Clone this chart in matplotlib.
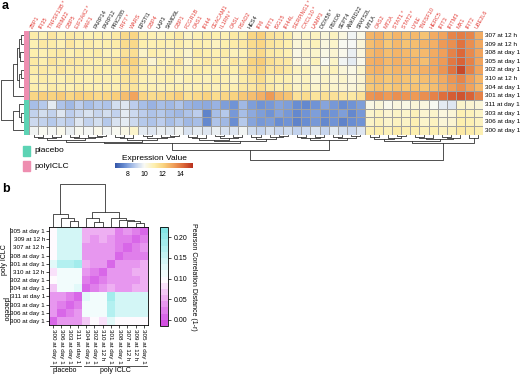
import numpy as np
import matplotlib.pyplot as plt
from matplotlib.colors import LinearSegmentedColormap, ListedColormap
from matplotlib.patches import Rectangle

plt.rcParams['font.family'] = ['Liberation Sans', 'DejaVu Sans']

# ---------------- panel a data ----------------
genes = ['ZBP1', 'IFI35', 'TNFSF13B *', 'TRIM22', 'GBP5', 'EIF2AK2 *', 'XAF1', 'PARP14', 'PARP12',
         'PRIC285', 'IRF7 *', 'WARS', 'EPSTI1', 'GBP4', 'LAP3', 'SAMD9L', 'GBP1', 'FCGR1B', 'OAS1',
         'IFI44', 'CEACAM1', 'IL1RN *', 'OASL', 'RSAD2', 'HES4', 'IFI6', 'IFIT1', 'ISG15', 'IFI44L',
         'SERPING1 *', 'CXCL10 *', 'LAMP3', 'DDX58 *', 'FBXO6', 'SEPT4', 'ANKRD22', 'SPATS2L', 'MT1A',
         'OAS2', 'MT2A', 'STAT1 *', 'STAT2 *', 'LY6E', 'TNFSF10', 'HERC5', 'IFIT3', 'IFITM3', 'MX1',
         'IFIT2', 'UBE2L6']
black_genes = ['PARP14', 'PARP12', 'PRIC285', 'EPSTI1', 'LAP3', 'SAMD9L', 'HES4', 'DDX58 *',
               'FBXO6', 'SEPT4', 'ANKRD22', 'SPATS2L', 'MT1A']
samples_a = ['307 at 12 h', '309 at 12 h', '308 at day 1', '305 at day 1', '302 at day 1',
             '310 at 12 h', '304 at day 1', '301 at day 1', '311 at day 1', '303 at day 1',
             '306 at day 1', '300 at day 1']
groups_a = ['polyICLC'] * 8 + ['placebo'] * 4

expr = [
    [11.2, 11.0, 11.4, 11.1, 11.3, 11.2, 11.0, 11.1, 11.0, 11.3, 11.9, 12.0, 11.2, 11.0, 10.9, 11.1, 11.3, 10.8, 11.0, 11.2, 11.1, 11.0, 11.3, 11.2,
     12.0, 12.2, 11.6, 11.4, 11.2, 10.5, 10.7, 10.8, 10.4, 10.8, 10.3, 9.8, 10.2,
     12.8, 12.9, 12.5, 12.8, 12.6, 12.7, 12.5, 13.0, 13.2, 13.8, 14.0, 13.8, 13.0],
    [11.0, 11.3, 11.2, 11.0, 11.4, 11.1, 11.2, 11.0, 11.1, 11.2, 11.8, 11.9, 11.1, 11.0, 11.1, 11.0, 11.2, 10.9, 11.1, 11.0, 10.8, 11.1, 11.2, 11.3,
     11.8, 12.0, 11.5, 11.3, 11.1, 10.4, 10.6, 10.9, 10.3, 10.6, 10.0, 9.9, 10.4,
     12.6, 12.8, 12.4, 12.7, 12.5, 12.6, 12.8, 12.9, 13.4, 13.6, 14.2, 13.6, 13.1],
    [11.1, 11.0, 11.2, 11.3, 11.0, 11.2, 11.1, 11.2, 10.9, 11.0, 11.6, 11.7, 10.7, 11.1, 11.0, 10.8, 11.0, 10.6, 11.2, 11.1, 11.0, 11.2, 10.9, 11.0,
     11.6, 11.9, 11.3, 11.2, 11.0, 10.2, 10.5, 10.6, 10.2, 10.5, 10.1, 9.7, 10.3,
     12.7, 12.9, 12.6, 12.8, 12.7, 12.6, 12.7, 13.0, 13.3, 13.9, 14.4, 13.7, 13.2],
    [11.3, 11.1, 11.5, 11.2, 11.4, 11.3, 11.2, 11.1, 11.2, 11.4, 12.0, 12.1, 11.3, 10.5, 11.0, 11.1, 11.4, 10.6, 11.1, 11.3, 11.2, 11.0, 11.4, 11.2,
     12.1, 12.3, 11.7, 11.4, 11.3, 10.3, 10.4, 10.9, 10.0, 10.7, 9.8, 9.6, 10.1,
     12.9, 13.0, 12.7, 12.9, 12.8, 12.8, 12.6, 13.1, 13.4, 14.1, 14.5, 13.9, 13.2],
    [11.2, 11.3, 11.2, 11.4, 11.2, 11.3, 11.1, 11.2, 11.1, 11.2, 11.7, 11.9, 11.2, 11.1, 11.0, 11.2, 11.1, 10.9, 11.2, 11.1, 11.0, 11.2, 11.1, 11.4,
     11.9, 12.1, 11.5, 11.6, 11.3, 10.8, 10.9, 10.5, 10.6, 10.9, 10.4, 10.2, 10.6,
     12.8, 12.9, 12.6, 12.8, 12.7, 12.7, 12.9, 13.1, 13.5, 14.2, 15.0, 13.9, 13.2],
    [11.0, 11.2, 11.1, 11.0, 11.2, 11.1, 11.0, 11.1, 11.0, 11.1, 11.5, 11.6, 11.0, 10.9, 11.0, 11.1, 10.8, 11.0, 11.0, 10.9, 11.1, 11.0, 10.8, 11.2,
     11.5, 11.8, 11.2, 11.1, 11.0, 10.6, 10.8, 10.4, 10.7, 10.5, 10.6, 10.3, 10.5,
     12.5, 12.6, 12.4, 12.6, 12.5, 12.4, 12.6, 12.7, 13.0, 13.5, 13.8, 13.3, 12.8],
    [11.1, 11.0, 11.2, 11.1, 11.0, 11.2, 11.1, 11.0, 11.1, 11.0, 11.4, 11.5, 11.1, 11.0, 10.9, 11.0, 11.1, 10.9, 11.0, 11.1, 10.9, 11.1, 11.0, 11.3,
     11.4, 11.7, 11.3, 11.0, 11.2, 10.7, 10.9, 10.6, 10.8, 10.6, 10.5, 10.4, 10.6,
     12.4, 12.5, 12.3, 12.5, 12.4, 12.5, 12.4, 12.6, 12.9, 13.3, 13.6, 13.2, 12.7],
    [12.0, 12.2, 12.1, 12.3, 12.0, 12.2, 12.1, 11.9, 12.0, 12.2, 12.6, 13.2, 12.0, 11.8, 11.9, 12.0, 12.2, 11.7, 11.9, 12.1, 11.8, 12.0, 12.1, 12.4,
     12.6, 12.9, 13.4, 12.7, 12.5, 11.6, 11.8, 11.5, 11.7, 11.6, 11.4, 11.3, 11.6,
     13.5, 13.6, 13.4, 13.6, 13.5, 13.4, 13.6, 13.9, 14.3, 14.6, 14.8, 14.5, 13.9],
    [8.6, 8.8, 9.6, 8.7, 8.5, 8.9, 8.6, 8.8, 8.7, 9.3, 9.5, 8.9, 8.6, 8.4, 8.6, 8.5, 8.7, 8.4, 8.3, 8.2, 8.4, 8.0, 7.8, 8.5,
     8.0, 7.8, 7.9, 8.1, 8.0, 7.7, 7.6, 7.8, 8.1, 7.9, 7.7, 7.8, 8.0,
     10.2, 10.4, 10.1, 10.3, 10.2, 10.4, 10.3, 10.0, 9.6, 9.5, 10.6, 10.5, 10.4],
    [9.0, 9.3, 9.0, 9.5, 8.9, 9.2, 9.4, 9.1, 9.3, 9.0, 9.6, 9.2, 8.9, 8.7, 8.8, 8.6, 8.5, 8.7, 8.9, 7.5, 8.6, 8.8, 7.9, 8.6,
     8.2, 8.0, 7.8, 8.1, 7.9, 7.6, 7.8, 8.0, 7.7, 7.8, 8.0, 7.6, 7.9,
     10.6, 10.8, 10.5, 10.7, 10.6, 10.9, 10.5, 10.6, 10.3, 10.4, 11.0, 10.9, 10.7],
    [9.2, 9.0, 8.8, 9.1, 8.9, 9.5, 9.0, 9.3, 8.8, 9.4, 9.6, 9.2, 8.8, 8.7, 8.9, 8.6, 8.8, 8.5, 8.6, 7.6, 8.7, 8.5, 7.7, 8.8,
     8.1, 7.9, 8.0, 7.7, 7.8, 7.5, 7.7, 7.9, 7.6, 7.8, 7.5, 7.7, 7.8,
     10.7, 10.9, 10.6, 10.8, 10.7, 11.0, 10.6, 10.8, 10.4, 10.5, 11.1, 11.0, 10.8],
    [9.8, 10.0, 9.9, 10.1, 9.7, 10.0, 9.9, 10.1, 9.8, 10.0, 10.2, 10.6, 9.6, 9.5, 9.7, 9.6, 9.8, 9.4, 9.6, 9.5, 9.7, 9.4, 9.5, 9.8,
     9.3, 9.1, 9.4, 9.2, 9.3, 9.0, 9.2, 9.4, 9.1, 9.6, 9.3, 9.2, 9.5,
     11.0, 11.1, 10.9, 11.2, 11.0, 11.1, 10.9, 11.0, 10.8, 10.9, 11.3, 11.2, 11.0],
]

# trees: [left, right, height], leaves are positions in display order
row_tree_a = [[[[[0, 1, 0.12], [2, 3, 0.14], 0.2], [[4, 5, 0.13], 6, 0.2], 0.3], 7, 0.45],
              [[8, [9, 10, 0.12], 0.2], 11, 0.45], 1.0]
col_x1 = [[[[0, 1, .08], [2, 3, .1], .15], [[4, 5, .09], [6, [7, 8, .06], .1], .14], .22],
          [[[9, 10, .08], 11, .12], [[12, 13, .07], [14, [15, 16, .06], .1], .13], .2], .27]
col_x2 = [[[[17, 18, .08], 19, .12], [[20, 21, .07], [22, 23, .1], .13], .2],
          [[24, 25, .1], [26, [27, 28, .07], .11], .16], .25]
col_b2 = [[[29, 30, .08], [31, 32, .1], .15], [[33, 34, .09], [35, 36, .07], .13], .22]
col_r1 = [[[37, 38, .1], [39, [40, 41, .07], .12], .18],
          [[[42, 43, .08], 44, .12], [[45, 46, .09], 47, .13], .17], .25]
col_tree_a = [[[col_x1, col_x2, .33], col_b2, .6], [col_r1, [48, 49, .12], .33], .95]

# ---------------- panel b data ----------------
samples_b = ['300 at day 1', '306 at day 1', '303 at day 1', '311 at day 1', '304 at day 1',
             '302 at day 1', '310 at 12 h', '301 at day 1', '308 at day 1', '307 at 12 h',
             '309 at 12 h', '305 at day 1']
dist = [
    [0.00, 0.03, 0.035, 0.04, 0.07, 0.09, 0.075, 0.12, 0.10, 0.10, 0.10, 0.10],
    [0.03, 0.00, 0.02, 0.03, 0.11, 0.11, 0.115, 0.17, 0.14, 0.14, 0.14, 0.14],
    [0.035, 0.02, 0.00, 0.025, 0.11, 0.11, 0.11, 0.17, 0.14, 0.14, 0.14, 0.14],
    [0.04, 0.03, 0.025, 0.00, 0.12, 0.11, 0.11, 0.18, 0.145, 0.145, 0.14, 0.145],
    [0.07, 0.11, 0.11, 0.12, 0.00, 0.025, 0.03, 0.045, 0.04, 0.04, 0.045, 0.05],
    [0.09, 0.11, 0.11, 0.11, 0.025, 0.00, 0.02, 0.04, 0.035, 0.04, 0.04, 0.045],
    [0.075, 0.115, 0.11, 0.11, 0.03, 0.02, 0.00, 0.035, 0.04, 0.04, 0.045, 0.05],
    [0.12, 0.17, 0.17, 0.18, 0.045, 0.04, 0.035, 0.00, 0.03, 0.035, 0.04, 0.045],
    [0.10, 0.14, 0.14, 0.145, 0.04, 0.035, 0.04, 0.03, 0.00, 0.02, 0.025, 0.025],
    [0.10, 0.14, 0.14, 0.145, 0.04, 0.04, 0.04, 0.035, 0.02, 0.00, 0.02, 0.03],
    [0.10, 0.14, 0.14, 0.14, 0.045, 0.04, 0.045, 0.04, 0.025, 0.02, 0.00, 0.02],
    [0.10, 0.14, 0.14, 0.145, 0.05, 0.045, 0.05, 0.045, 0.025, 0.03, 0.02, 0.00],
]
col_tree_b = [[0, [1, [2, 3, 0.14], 0.21], 0.30],
              [[4, [5, 6, 0.12], 0.2], [7, [8, [9, [10, 11, 0.1], 0.13], 0.17], 0.22], 0.35], 1.0]

W, H = 520, 375


def box(x0, y0, x1, y1):
    # pixel box (top-left origin) -> figure fraction rect
    return [x0 / W, 1 - y1 / H, (x1 - x0) / W, (y1 - y0) / H]


def dendro(tree):
    # returns centre, height, list of segments (pos, height)
    if isinstance(tree, int):
        return tree + 0.5, 0.0, []
    left, right, h = tree
    xl, hl, sl = dendro(left)
    xr, hr, sr = dendro(right)
    seg = [(xl, hl), (xl, h), (xr, h), (xr, hr)]
    return (xl + xr) / 2, h, sl + sr + [seg]


fig = plt.figure(figsize=(5.2, 3.75), dpi=100)
lc = '#333333'

# ---------------- panel a ----------------
cmap_a = LinearSegmentedColormap.from_list('expr', ['#3456a8', '#6b8fd3', '#b7caec', '#f8f9f4',
                                                    '#fdf0b0', '#f9d27e', '#f0a05a', '#dd6a3a',
                                                    '#b8301e'])
data_a = np.array(expr)
ax = fig.add_axes(box(29, 30.5, 483, 134.5))
mesh = ax.pcolormesh(data_a, cmap=cmap_a, vmin=6.6, vmax=15.5, edgecolors='#a0a0a0', linewidth=0.5)
ax.set_xlim(0, len(genes))
ax.set_ylim(len(samples_a), 0)
ax.set_xticks(np.arange(len(genes)) + 0.5)
ax.set_xticklabels(genes, rotation=60, ha='left', rotation_mode='anchor', fontsize=4.0)
ax.xaxis.tick_top()
for t in ax.get_xticklabels():
    t.set_color('#222222' if t.get_text() in black_genes else '#e3403a')
ax.set_yticks(np.arange(len(samples_a)) + 0.5)
ax.set_yticklabels(samples_a, fontsize=4.6)
ax.yaxis.tick_right()
ax.tick_params(axis='x', length=0, pad=1)
ax.tick_params(axis='y', length=0, pad=1.5)
for s in ax.spines.values():
    s.set_visible(False)

grp_col = {'placebo': '#5cd3b4', 'polyICLC': '#ee8eb0'}
ax_s = fig.add_axes(box(24, 30.5, 28.5, 134.5))
ax_s.pcolormesh(np.arange(len(groups_a))[:, None],
                cmap=ListedColormap([grp_col[g] for g in groups_a]), edgecolors='none')
ax_s.set_ylim(len(groups_a), 0)
ax_s.axis('off')

ax_rd = fig.add_axes(box(0.5, 30.5, 23.5, 134.5))
for seg in dendro(row_tree_a)[2]:
    ax_rd.plot([p[1] for p in seg], [p[0] for p in seg], color=lc, lw=0.6)
ax_rd.set_xlim(1.0, 0)
ax_rd.set_ylim(len(samples_a), 0)
ax_rd.axis('off')

ax_cd = fig.add_axes(box(29, 134.5, 483, 161))
for seg in dendro(col_tree_a)[2]:
    ax_cd.plot([p[0] for p in seg], [p[1] for p in seg], color=lc, lw=0.6)
ax_cd.set_xlim(0, len(genes))
ax_cd.set_ylim(1.0, 0)
ax_cd.axis('off')

# group legend
ax_l = fig.add_axes([0, 0, 1, 1])
ax_l.set_xlim(0, W)
ax_l.set_ylim(H, 0)
ax_l.axis('off')
for i, g in enumerate(['placebo', 'polyICLC']):
    y = 146 + i * 15
    ax_l.add_patch(Rectangle((23, y), 6.5, 9.5, color=grp_col[g]))
    ax_l.text(34, y + 5, g, fontsize=6, va='center', ha='left')
ax_l.text(2, 6, 'a', fontsize=9, fontweight='bold', va='center')
ax_l.text(2, 189, 'b', fontsize=9, fontweight='bold', va='center')

cax = fig.add_axes(box(115, 163, 193, 168))
cb = fig.colorbar(mesh, cax=cax, orientation='horizontal', ticks=[8, 10, 12, 14])
cb.outline.set_visible(False)
cax.tick_params(labelsize=5, length=0, pad=2)
cax.set_title('Expression Value', fontsize=6, pad=2.5)

# ---------------- panel b ----------------
D = np.array(dist)
D = (D + D.T) / 2
nb = len(samples_b)
cmap_b = LinearSegmentedColormap.from_list('dist', [(0.0, '#d24fe0'), (0.0625, '#d866e8'),
                                                    (0.27, '#eeb0f2'), (0.48, '#ffffff'),
                                                    (0.69, '#cdf5f5'), (1.0, '#84e6e6')])
cmap_b = ListedColormap(cmap_b(np.linspace(0, 1, 16)))
axb = fig.add_axes(box(49, 227, 148, 325))
mb = axb.pcolormesh(D, cmap=cmap_b, vmin=-0.015, vmax=0.225)
axb.set_xlim(0, nb)
axb.set_ylim(0, nb)
axb.set_xticks(np.arange(nb) + 0.5)
axb.set_xticklabels(samples_b, rotation=270, fontsize=4.5)
axb.set_yticks(np.arange(nb) + 0.5)
axb.set_yticklabels(samples_b, fontsize=4.5)
axb.tick_params(length=2, width=0.5, pad=1)
for s in axb.spines.values():
    s.set_linewidth(0.6)

axbd = fig.add_axes(box(49, 184, 148, 227))
for seg in dendro(col_tree_b)[2]:
    axbd.plot([p[0] for p in seg], [p[1] for p in seg], color=lc, lw=0.6)
axbd.set_xlim(0, nb)
axbd.set_ylim(0, 1.0)
axbd.axis('off')

caxb = fig.add_axes(box(160, 227, 168, 326))
cbb = fig.colorbar(mb, cax=caxb, ticks=[0.0, 0.05, 0.10, 0.15, 0.20])
caxb.set_yticklabels(['0.00', '0.05', '0.10', '0.15', '0.20'])
cbb.outline.set_linewidth(0.6)
caxb.tick_params(labelsize=5, length=2, width=0.5, pad=2)
cbb.set_label('Pearson Correlation Distance (1-r)', fontsize=5, rotation=270, labelpad=7)

# group brackets for panel b
ax_l.plot([10, 10], [228, 292], color=lc, lw=0.6)
ax_l.plot([10, 10], [294, 324], color=lc, lw=0.6)
ax_l.text(5, 260, 'poly ICLC', fontsize=5, rotation=90, ha='center', va='center')
ax_l.text(5, 309, 'placebo', fontsize=5, rotation=270, ha='center', va='center')
ax_l.plot([50, 81], [366, 366], color=lc, lw=0.6)
ax_l.plot([84, 147], [366, 366], color=lc, lw=0.6)
ax_l.text(65, 371, 'placebo', fontsize=5, ha='center', va='center')
ax_l.text(115, 371, 'poly ICLC', fontsize=5, ha='center', va='center')

fig.savefig('out.png', dpi=100)
